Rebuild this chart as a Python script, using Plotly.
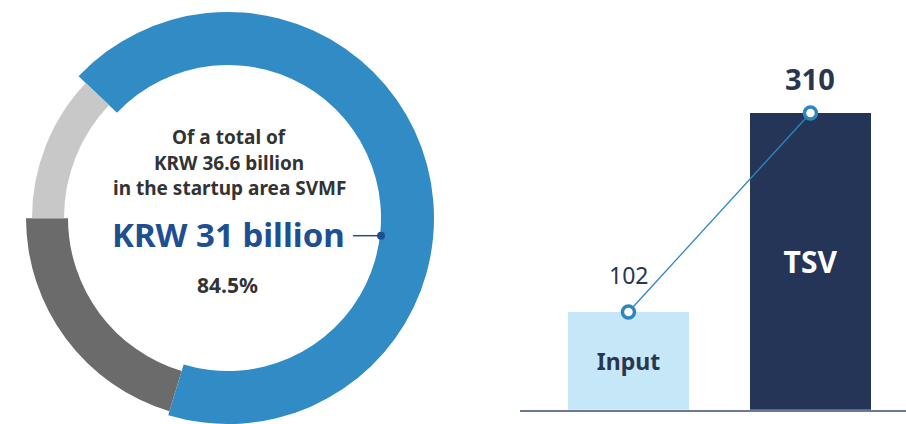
import plotly.graph_objects as go

# ---- data ----
ring_labels = ["Startup area (KRW 31 billion)", "Other A", "Other B"]
ring_arc_shares = [67.6, 20.3, 12.1]          # visual arc shares as drawn
ring_colors = ["#318bc4", "#6b6b6b", "#c8c8c8"]

bar_categories = ["Input", "TSV"]
bar_values = [102, 310]
bar_colors = ["#c5e7f7", "#243558"]
bar_text_colors = ["#2a3550", "#ffffff"]

center_lines = ["Of a total of", "KRW 36.6 billion", "in the startup area SVMF"]
headline = "KRW 31 billion"
headline_pct = "84.5%"

W, H = 906, 424
FONT = "Noto Sans"

fig = go.Figure()

# ---- donut (each segment drawn with its own radius / thickness) ----
cx, cy_top = 228, 218
cy = H - cy_top
rings = [  # (segment index, outer radius px, inner radius px)
    (0, 206, 153),
    (1, 202, 160),
    (2, 196, 164),
]
for idx, r_out, r_in in rings:
    cols = ["rgba(0,0,0,0)"] * len(ring_arc_shares)
    cols[idx] = ring_colors[idx]
    fig.add_trace(go.Pie(
        labels=ring_labels, values=ring_arc_shares, sort=False,
        direction="clockwise", rotation=-46.5,
        hole=r_in / r_out,
        marker=dict(colors=cols, line=dict(width=0)),
        textinfo="none", hoverinfo="skip", showlegend=False,
        domain=dict(x=[(cx - r_out) / W, (cx + r_out) / W],
                    y=[(cy - r_out) / H, (cy + r_out) / H]),
    ))

# ---- bars ----
fig.add_trace(go.Bar(
    x=bar_categories, y=bar_values, width=0.665,
    marker=dict(color=bar_colors, line=dict(width=0)),
    text=bar_categories, textposition="inside", insidetextanchor="middle",
    textfont=dict(family=FONT, size=[23, 30], color=bar_text_colors, weight="bold"),
    hoverinfo="skip", showlegend=False, cliponaxis=False,
))
fig.add_trace(go.Scatter(
    x=bar_categories, y=bar_values, mode="lines+markers",
    line=dict(color="#2e86c1", width=1.3),
    marker=dict(symbol="circle", size=12, color="white",
                line=dict(color="#2e86c1", width=3.5)),
    hoverinfo="skip", showlegend=False, cliponaxis=False,
))

annotations = []
# value labels
annotations.append(dict(x=bar_categories[0], y=bar_values[0], xref="x", yref="y",
                        text=str(bar_values[0]), showarrow=False, yanchor="middle",
                        yshift=37, font=dict(family=FONT, size=23, color="#2a3550")))
annotations.append(dict(x=bar_categories[1], y=bar_values[1], xref="x", yref="y",
                        text=str(bar_values[1]), showarrow=False, yanchor="middle",
                        yshift=34, font=dict(family=FONT, size=29, color="#2a3550",
                                             weight="bold")))

# donut centre text
line_y = [137, 163, 188]
for t, yy in zip(center_lines, line_y):
    annotations.append(dict(x=229 / W, y=1 - yy / H, xref="paper", yref="paper",
                            text=t, showarrow=False, xanchor="center", yanchor="middle",
                            font=dict(family=FONT, size=19, color="#333333", weight="bold")))
annotations.append(dict(x=228 / W, y=1 - 235 / H, xref="paper", yref="paper",
                        text=headline, showarrow=False, xanchor="center", yanchor="middle",
                        font=dict(family=FONT, size=33, color="#1d4f91", weight="bold")))
annotations.append(dict(x=227 / W, y=1 - 285 / H, xref="paper", yref="paper",
                        text=headline_pct, showarrow=False, xanchor="center", yanchor="middle",
                        font=dict(family=FONT, size=21, color="#333333", weight="bold")))

shapes = [
    dict(type="line", xref="paper", yref="paper",
         x0=353 / W, x1=381 / W, y0=1 - 235.7 / H, y1=1 - 235.7 / H,
         line=dict(color="#1d4f91", width=1.5)),
    dict(type="circle", xref="paper", yref="paper",
         x0=377 / W, x1=385 / W, y0=1 - 239.7 / H, y1=1 - 231.7 / H,
         fillcolor="#1d4f91", line=dict(width=0)),
]

fig.update_layout(
    width=W, height=H, margin=dict(l=0, r=0, t=0, b=0),
    paper_bgcolor="white", plot_bgcolor="white",
    showlegend=False, bargap=0,
    xaxis=dict(domain=[520 / W, 1], range=[-0.596, 1.525], showgrid=False,
               zeroline=False, showticklabels=False, ticks="",
               showline=True, linecolor="#6b7896", linewidth=2, fixedrange=True),
    yaxis=dict(domain=[14.3 / H, 1], range=[0, 428], showgrid=False,
               zeroline=False, showticklabels=False, ticks="", showline=False,
               fixedrange=True),
    annotations=annotations, shapes=shapes,
)

fig.write_html("out.html")
